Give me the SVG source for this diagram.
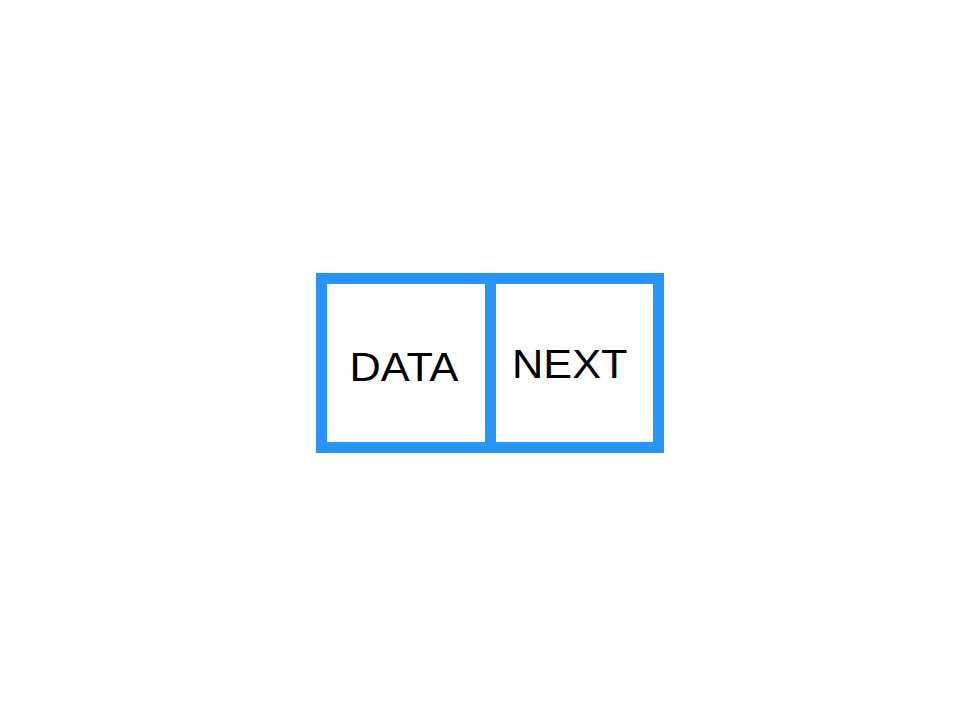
<svg xmlns="http://www.w3.org/2000/svg" width="965" height="728" viewBox="0 0 965 728">
<style>
.box{fill:#ffffff;stroke:#2b94f8;stroke-width:11}
.lbl{font-family:"Liberation Sans",Arial,sans-serif;font-size:41.5px;fill:#000000}
</style>
<rect width="965" height="728" fill="#ffffff"/>
<g id="node">
<rect class="box" x="321.5" y="278.5" width="337" height="169"/>
<line x1="490.5" y1="278" x2="490.5" y2="448" stroke="#2b94f8" stroke-width="11"/>
<g id="data"><text class="lbl" x="349.5" y="380.5" textLength="109" lengthAdjust="spacingAndGlyphs">DATA</text></g>
<g id="next"><text class="lbl" x="512" y="377.5" textLength="115.5" lengthAdjust="spacingAndGlyphs">NEXT</text></g>
</g>
<g id="connectors"></g>
</svg>
